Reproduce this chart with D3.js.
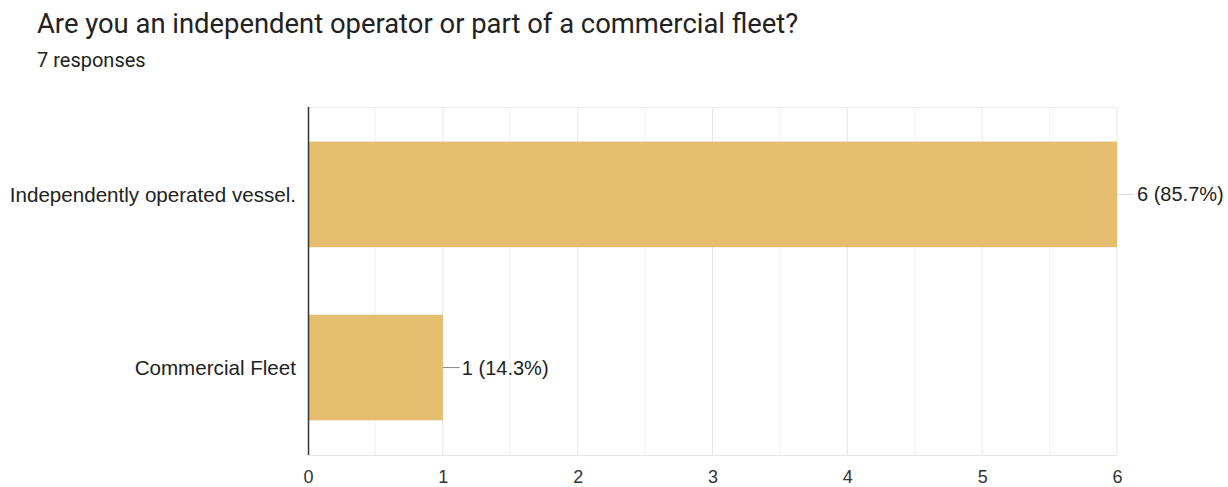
<!DOCTYPE html>
<html><head><meta charset="utf-8">
<script src="https://cdn.jsdelivr.net/npm/d3@7"></script>
<style>body{margin:0;background:#fff}svg{display:block}</style>
</head><body>
<script>
const categories = ["Independently operated vessel.", "Commercial Fleet"];
const counts = [6, 1];
const percents = ["85.7%", "14.3%"];
const xTicks = [0, 1, 2, 3, 4, 5, 6];
const title = "Are you an independent operator or part of a commercial fleet?";
const subtitle = "7 responses";

const W = 1228, H = 487;
const m = {left: 308, right: 111, top: 107, bottom: 32};
const svg = d3.select("body").append("svg").attr("width", W).attr("height", H);

svg.append("text").attr("x", 37).attr("y", 33).text(title)
  .attr("font-family", "Roboto, sans-serif").attr("font-size", 27.4).attr("fill", "#222");
svg.append("text").attr("x", 37).attr("y", 67).text(subtitle)
  .attr("font-family", "Roboto, sans-serif").attr("font-size", 20).attr("fill", "#222");

const x = d3.scaleLinear().domain([0, 6]).range([m.left, W - m.right]);
const y = d3.scaleBand().domain(categories).range([m.top, H - m.bottom]).paddingInner(0.39).paddingOuter(0.2);

const g = svg.append("g");
// minor gridlines
g.selectAll("line.minor").data(d3.range(0.5, 6, 1)).join("line")
  .attr("x1", d => x(d)).attr("x2", d => x(d)).attr("y1", m.top).attr("y2", H - m.bottom)
  .attr("stroke", "#f2f2f2").attr("stroke-width", 1);
// major gridlines
g.selectAll("line.major").data(xTicks.slice(1)).join("line")
  .attr("x1", d => x(d)).attr("x2", d => x(d)).attr("y1", m.top).attr("y2", H - m.bottom)
  .attr("stroke", "#e6e6e6").attr("stroke-width", 1);
// top and bottom borders
g.append("line").attr("x1", x(0)).attr("x2", x(6)).attr("y1", m.top + 0.5).attr("y2", m.top + 0.5).attr("stroke", "#ececec");
g.append("line").attr("x1", x(0)).attr("x2", x(6)).attr("y1", H - m.bottom + 0.5).attr("y2", H - m.bottom + 0.5).attr("stroke", "#e6e6e6");

// bars
g.selectAll("rect.bar").data(categories).join("rect")
  .attr("x", x(0)).attr("y", d => y(d))
  .attr("width", (d, i) => x(counts[i]) - x(0)).attr("height", y.bandwidth())
  .attr("fill", "#e4bd6f");

// value labels with leaders
categories.forEach((c, i) => {
  const cy = y(c) + y.bandwidth() / 2;
  const x0 = x(counts[i]);
  g.append("line").attr("x1", x0).attr("x2", x0 + 17).attr("y1", cy).attr("y2", cy)
    .attr("stroke", i === 0 ? "#d8d8d8" : "#888").attr("stroke-width", 1);
  g.append("text").attr("x", x0 + (i === 0 ? 20 : 19)).attr("y", cy).attr("dy", "0.35em")
    .text(counts[i] + " (" + percents[i] + ")")
    .attr("font-family", "Liberation Sans, Arial, sans-serif").attr("font-size", 20).attr("fill", "#222");
});

// y axis line
g.append("line").attr("x1", x(0) + 0.5).attr("x2", x(0) + 0.5).attr("y1", m.top).attr("y2", H - m.bottom)
  .attr("stroke", "#333").attr("stroke-width", 1.5);

// category labels
g.selectAll("text.cat").data(categories).join("text")
  .attr("x", x(0) - 12).attr("y", d => y(d) + y.bandwidth() / 2).attr("dy", "0.35em")
  .attr("text-anchor", "end").text(d => d)
  .attr("font-family", "Liberation Sans, Arial, sans-serif").attr("font-size", 20.6).attr("fill", "#222");

// x axis
const xAxis = d3.axisBottom(x).tickValues(xTicks).tickFormat(d3.format("d")).tickSize(0).tickPadding(15);
const ax = svg.append("g").attr("transform", `translate(0,${H - m.bottom})`).call(xAxis);
ax.select(".domain").remove();
ax.selectAll("text").attr("font-family", "Liberation Sans, Arial, sans-serif").attr("font-size", 18).attr("fill", "#333");
</script>
</body></html>
